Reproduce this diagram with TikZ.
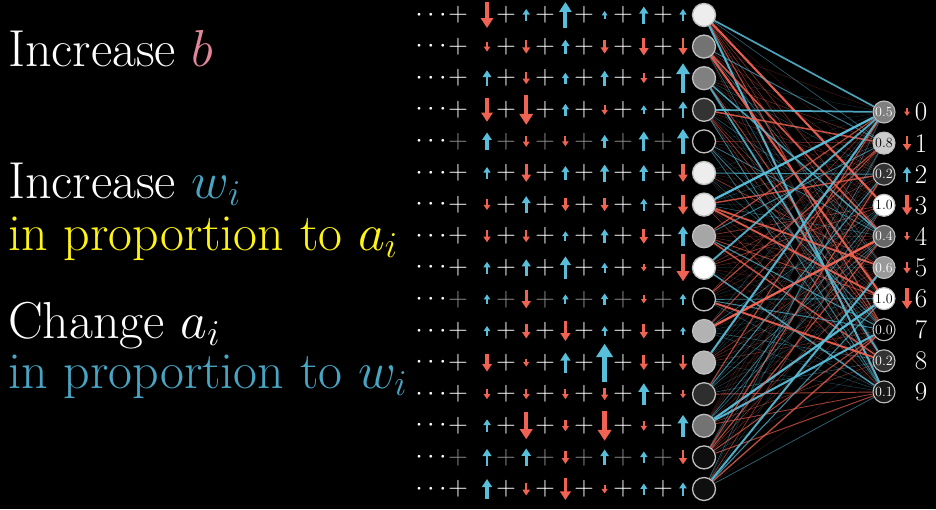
\RequirePackage{fix-cm}
\documentclass[tikz,border=0pt]{standalone}
\usetikzlibrary{arrows.meta}

\definecolor{nred}{RGB}{240,98,82}
\definecolor{nblue}{RGB}{88,190,218}
\definecolor{tblue}{RGB}{72,165,195}
\definecolor{tpink}{RGB}{225,135,155}
\definecolor{tyellow}{RGB}{255,245,20}

\pgfdeclarelayer{bg}
\pgfdeclarelayer{links}
\pgfsetlayers{bg,links,main}

\tikzset{
  lbl/.style={font=\fontsize{52}{60}\selectfont, text=white, anchor=base west, inner sep=0pt, text depth=0pt},
  plus/.style={font=\fontsize{27}{27}\selectfont, inner sep=0pt},
  hidden/.style={circle, draw=white!75!black, line width=1.3pt, minimum size=23pt, inner sep=0pt},
  outn/.style={circle, draw=white!75!black, line width=1.1pt, minimum size=22pt, inner sep=0pt, font=\fontsize{14}{14}\selectfont},
  digit/.style={font=\fontsize{27}{27}\selectfont, text=white, inner sep=0pt},
}

% signed nudge arrow: x, y, length (>0 up/blue, <0 down/red)
\newcommand{\nudge}[3]{%
  \pgfmathsetmacro\alen{abs(#3)}%
  \pgfmathsetmacro\alw{0.9+0.12*\alen}%
  \pgfmathsetmacro\ahl{2+0.3*\alen}%
  \pgfmathsetmacro\ahw{2.8+0.35*\alen}%
  \ifdim #3pt<0pt
    \draw[nred,line width=\alw pt,-{Triangle[length=\ahl pt,width=\ahw pt]}] (#1,#2-\alen/2) -- (#1,#2+\alen/2);
  \else
    \draw[nblue,line width=\alw pt,-{Triangle[length=\ahl pt,width=\ahw pt]}] (#1,#2+\alen/2) -- (#1,#2-\alen/2);
  \fi}

\begin{document}
\begin{tikzpicture}[x=1pt,y=-1pt]
  \useasboundingbox (0,0) rectangle (936,509);
  \begin{pgfonlayer}{bg}
    \fill[black] (0,0) rectangle (936,509);
  \end{pgfonlayer}

  % left captions
  \node[lbl] (incb) at (8,66) {Increase \textcolor{tpink}{$b$}};
  \node[lbl] (incw) at (8,198) {Increase \textcolor{tblue}{$w_i$}};
  \node[lbl,text=tyellow] (propa) at (8,250) {in proportion to $a_i$};
  \node[lbl] (chga) at (8,338) {Change $a_i$};
  \node[lbl,text=tblue] (propw) at (8,388) {in proportion to $w_i$};

  % rows of nudges feeding each hidden neuron
  \foreach \act/\pc/\vals [count=\r] in {
      93/100/{-26,12,26,8,17,12},
      45/100/{-10,-14,14,-14,-18,-17},
      50/100/{16,-12,11,15,-10,30},
      20/100/{-24,-30,12,-10,9,17},
      0/55/{18,-11,-10,13,20,25},
      93/100/{12,-18,14,17,16,-18},
      93/100/{-11,17,-13,-13,12,-20},
      65/100/{-12,-12,10,14,-15,20},
      100/100/{12,17,23,10,-7,-27},
      0/55/{10,-18,10,12,-8,11},
      70/100/{10,-15,-20,10,-15,8},
      70/100/{-18,-8,20,38,-15,-15},
      18/100/{-10,-10,-10,-12,22,-8},
      45/100/{13,-27,-11,-30,-10,22},
      6/55/{17,18,-13,16,12,-14},
      6/100/{20,-13,-22,-9,11,13}} {
    \pgfmathsetmacro\yy{15+31.6*(\r-1)}
    \node[plus,text=white] (dots\r) at (431,\yy) {$\cdots$};
    \foreach \px in {458,506,545,584,623,663}
      \node[plus,text=white!\pc!black] at (\px,\yy) {$+$};
    \foreach \v [count=\k] in \vals {
      \pgfmathsetmacro\ax{487+39.2*(\k-1)}
      \nudge{\ax}{\yy}{\v}
    }
    \node[hidden,fill=white!\act!black] (h\r) at (704,\yy) {};
  }

  % output layer
  \foreach \pct/\lab/\dv [count=\j from 0] in {
      50/0.5/-8, 80/0.8/-15, 20/0.2/15, 100/1.0/-20, 40/0.4/-8,
      60/0.6/-12, 100/1.0/-21, 0/0.0/0, 20/0.2/0, 10/0.1/0} {
    \pgfmathsetmacro\oy{112+31.1*\j}
    \ifnum\pct>70 \def\tc{black}\else\def\tc{white}\fi
    \node[outn,fill=white!\pct!black,text=\tc] (o\j) at (884,\oy) {\lab};
    \ifnum\dv=0 \else \nudge{907}{\oy}{\dv}\fi
    \node[digit] (d\j) at (921,\oy) {\j};
  }

  % weights
  \pgfmathsetseed{4217}
  \begin{pgfonlayer}{links}
    \foreach \i in {1,...,16}
      \foreach \j in {0,...,9} {
        \pgfmathsetmacro\wt{rand}
        \pgfmathsetmacro\wa{abs(\wt)}
        \pgfmathsetmacro\wop{0.25+0.75*\wa*\wa}
        \pgfmathsetmacro\wlw{0.35+2*\wa*\wa*\wa*\wa}
        \ifdim \wt pt<0pt \def\wc{nred}\else\def\wc{nblue}\fi
        \draw[\wc,draw opacity=\wop,line width=\wlw pt] (h\i) -- (o\j);
      }
  \end{pgfonlayer}
\end{tikzpicture}
\end{document}
